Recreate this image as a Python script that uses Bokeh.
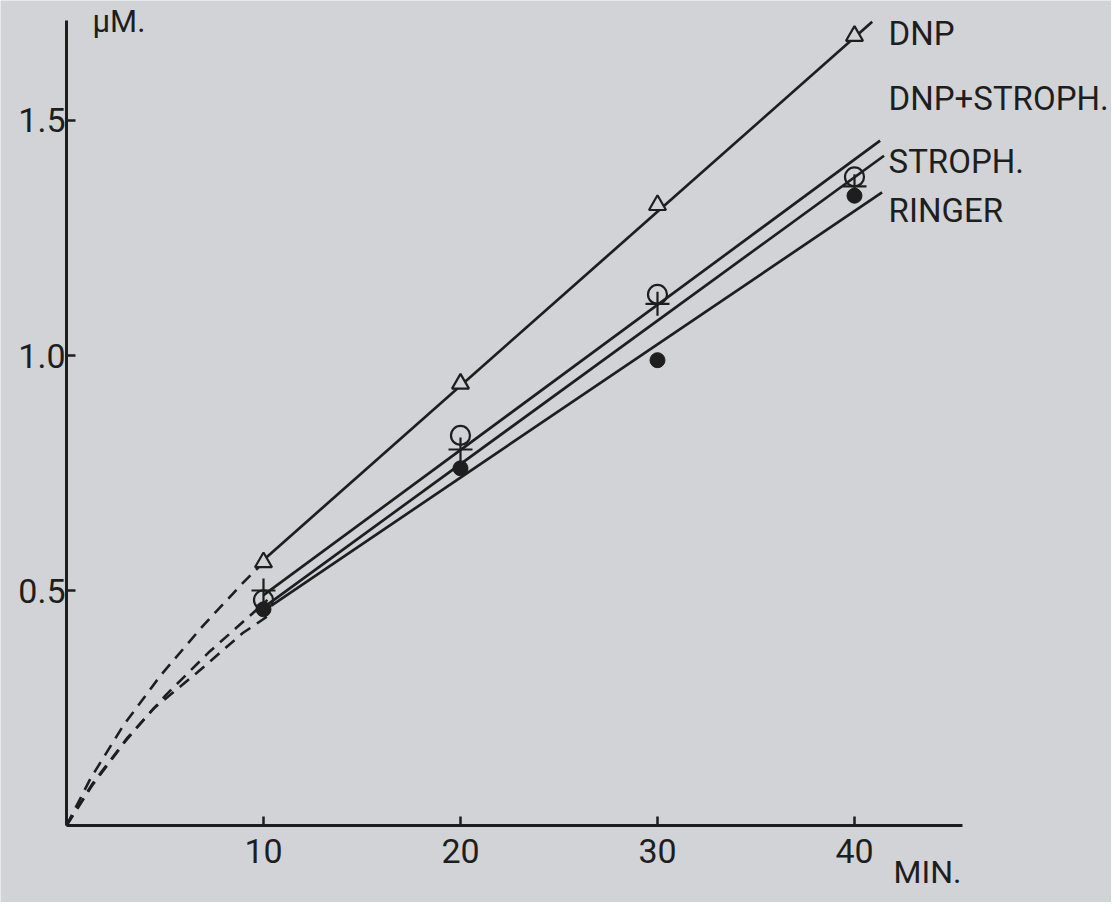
from bokeh.plotting import figure
from bokeh.models import Range1d, FixedTicker, Label
from bokeh.embed import file_html
from bokeh.resources import INLINE

# ---- data ----
minutes = [10, 20, 30, 40]
dnp = [0.56, 0.94, 1.32, 1.68]
dnp_stroph = [0.50, 0.80, 1.11, 1.36]
stroph = [0.48, 0.83, 1.13, 1.38]
ringer = [0.46, 0.76, 0.99, 1.34]

# fitted straight lines (start, end)
dnp_fit_x = [10.0, 40.9]
dnp_fit_y = [0.565, 1.71]
dnp_stroph_fit_x = [10.0, 41.3]
dnp_stroph_fit_y = [0.49, 1.457]
stroph_fit_x = [10.2, 41.5]
stroph_fit_y = [0.47, 1.425]
ringer_fit_x = [10.4, 41.4]
ringer_fit_y = [0.468, 1.347]

# dashed extrapolations towards the origin
dash_top_x = [0, 1.22, 2.89, 4.77, 6.95, 8.93, 10.0]
dash_top_y = [0, 0.10, 0.213, 0.319, 0.426, 0.515, 0.56]
dash_mid_x = [0, 1.32, 3.10, 5.03, 7.21, 9.44, 10.2]
dash_mid_y = [0, 0.089, 0.187, 0.277, 0.368, 0.451, 0.48]
dash_low_x = [0, 1.30, 3.00, 4.42, 6.65, 8.93, 10.2]
dash_low_y = [0, 0.085, 0.18, 0.249, 0.326, 0.409, 0.445]

x_ticks = [10, 20, 30, 40]
y_ticks = [0.5, 1.0, 1.5]
y_tick_labels = ["0.5", "1.0", "1.5"]
series_names = ["DNP", "DNP+STROPH.", "STROPH.", "RINGER"]
name_x = [41.73, 41.73, 41.73, 41.73]
name_y = [1.685, 1.547, 1.412, 1.309]
y_unit = "µM."
x_unit = "MIN."

INK = "#1e1e1e"
BG = "#d2d3d6"
FONT = "Roboto"

p = figure(width=1111, height=902,
           x_range=Range1d(-3.350, 53.046), y_range=Range1d(-0.1638, 1.7553),
           output_backend="svg", toolbar_location=None,
           min_border_left=0, min_border_bottom=0,
           min_border_right=0, min_border_top=0,
           background_fill_color=BG, border_fill_color=BG,
           outline_line_color=None)
p.xgrid.visible = False
p.ygrid.visible = False

for ax in (p.xaxis[0], p.yaxis[0]):
    ax.fixed_location = 0
    ax.axis_line_color = INK
    ax.axis_line_width = 3
    ax.major_tick_line_color = INK
    ax.major_tick_line_width = 2.5
    ax.major_tick_in = 9
    ax.major_tick_out = 0
    ax.minor_tick_line_color = None
    ax.major_label_text_font = FONT
    ax.major_label_text_color = INK

p.xaxis.bounds = (0, 45.48)
p.yaxis.bounds = (0, 1.713)
p.xaxis.ticker = FixedTicker(ticks=x_ticks)
p.yaxis.ticker = FixedTicker(ticks=y_ticks)
p.yaxis.major_label_overrides = {t: s for t, s in zip(y_ticks, y_tick_labels)}
p.xaxis.major_label_text_font_size = "34px"
p.yaxis.major_label_text_font_size = "34px"
p.xaxis.major_label_standoff = 13
p.yaxis.major_label_standoff = 1

# fitted lines
for fx, fy in ((dnp_fit_x, dnp_fit_y), (dnp_stroph_fit_x, dnp_stroph_fit_y),
               (stroph_fit_x, stroph_fit_y), (ringer_fit_x, ringer_fit_y)):
    p.line(fx, fy, line_color=INK, line_width=2.7)

# dashed extrapolations
for dx, dy in ((dash_top_x, dash_top_y), (dash_mid_x, dash_mid_y), (dash_low_x, dash_low_y)):
    p.line(dx, dy, line_color=INK, line_width=2.6, line_dash="12 8")

# markers
p.scatter(minutes, dnp, marker="triangle", size=17, fill_color=BG,
          line_color=INK, line_width=2.2)
p.scatter(minutes, stroph, marker="circle", size=19, fill_color=None,
          line_color=INK, line_width=2.2)
p.scatter(minutes, dnp_stroph, marker="cross", size=24,
          line_color=INK, line_width=2.2)
p.scatter(minutes, ringer, marker="circle", size=15, fill_color=INK,
          line_color=INK)

# series names
for nm, nx, ny in zip(series_names, name_x, name_y):
    p.add_layout(Label(x=nx, y=ny, text=nm, text_font=FONT,
                       text_font_size="33px", text_color=INK,
                       text_baseline="alphabetic", text_align="left"))

p.add_layout(Label(x=1.32, y=1.711, text=y_unit, text_font=FONT,
                   text_font_size="31px", text_color=INK,
                   text_baseline="alphabetic", text_align="left"))
p.add_layout(Label(x=41.98, y=-0.098, text=x_unit, text_font=FONT,
                   text_font_size="32px", text_color=INK,
                   text_baseline="alphabetic", text_align="left"))

open("out.html", "w").write(file_html(p, INLINE))
